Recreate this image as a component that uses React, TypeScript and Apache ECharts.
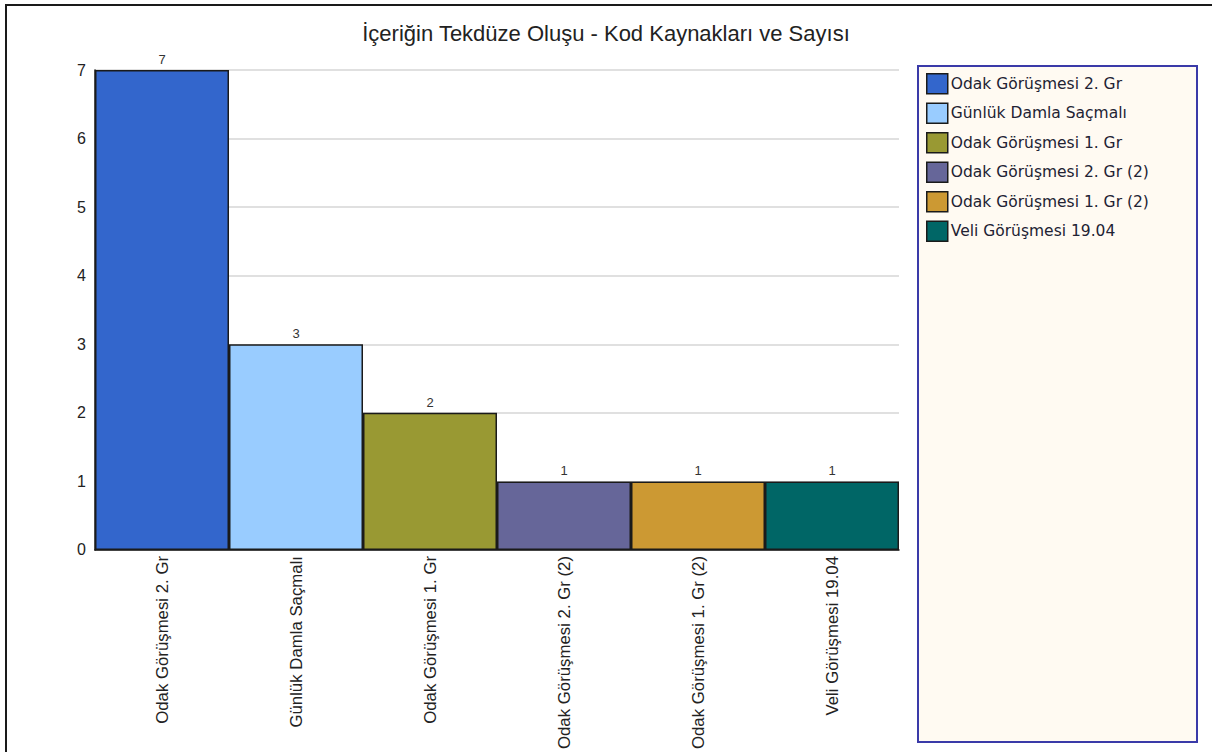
import React, { useEffect, useRef } from "react";
import * as echarts from "echarts";

const titleText = "İçeriğin Tekdüze Oluşu - Kod Kaynakları ve Sayısı";
const categories = [
  "Odak Görüşmesi 2. Gr",
  "Günlük Damla Saçmalı",
  "Odak Görüşmesi 1. Gr",
  "Odak Görüşmesi 2. Gr (2)",
  "Odak Görüşmesi 1. Gr (2)",
  "Veli Görüşmesi 19.04",
];
const values = [7, 3, 2, 1, 1, 1];
const yTicks = [0, 1, 2, 3, 4, 5, 6, 7];
const palette = ["#3366cc", "#99ccff", "#999933", "#666699", "#cc9933", "#006666"];

const FONT = "'Liberation Sans', Arial, sans-serif";
const LEGEND_FONT = "'DejaVu Sans', Verdana, sans-serif";

export default function App() {
  const ref = useRef<HTMLDivElement>(null);

  useEffect(() => {
    if (!ref.current) return;
    const chart = echarts.init(ref.current, undefined, { renderer: "svg" });

    const series = categories.map((name, i) => ({
      name,
      type: "bar" as const,
      stack: "total",
      barWidth: "100%",
      barCategoryGap: "0%",
      data: values.map((v, j) => (j === i ? v : "-")),
      itemStyle: { color: palette[i], borderColor: "#1a1a1a", borderWidth: 1.5 },
      label: {
        show: true,
        position: "top" as const,
        distance: 4,
        fontSize: 13,
        color: "#333",
        fontFamily: FONT,
      },
      emphasis: { disabled: true },
    }));

    chart.setOption({
      animation: false,
      backgroundColor: "#ffffff",
      title: {
        text: titleText,
        left: "center",
        top: 21,
        padding: [0, 0, 0, 6],
        textStyle: {
          fontSize: 22,
          fontWeight: "normal",
          color: "#222",
          fontFamily: FONT,
          lineHeight: 24,
        },
      },
      graphic: [
        {
          type: "rect",
          silent: true,
          z: -10,
          shape: { x: 6, y: 5, width: 1400, height: 900 },
          style: { fill: "none", stroke: "#1a1a1a", lineWidth: 2 },
        },
        {
          type: "rect",
          silent: true,
          z: -5,
          shape: { x: 918, y: 66, width: 279, height: 676 },
          style: { fill: "#fffaf2", stroke: "#3a3aa8", lineWidth: 2 },
        },
      ],
      legend: {
        orient: "vertical",
        left: 926,
        top: 73,
        padding: 0,
        itemWidth: 21,
        itemHeight: 20,
        itemGap: 8,
        icon: "rect",
        selectedMode: false,
        itemStyle: { borderColor: "#1a1a1a", borderWidth: 1.5 },
        textStyle: { fontSize: 15.5, color: "#222233", fontFamily: LEGEND_FONT, padding: [0, 0, 0, -2] },
        data: categories,
      },
      grid: { left: 95, right: 313, top: 70, bottom: 202, containLabel: false },
      xAxis: {
        type: "category",
        data: categories,
        axisTick: { show: false },
        axisLine: { lineStyle: { color: "#111", width: 1.5 } },
        axisLabel: {
          rotate: 90,
          interval: 0,
          margin: 6,
          fontSize: 16.8,
          color: "#222",
          fontFamily: FONT,
        },
      },
      yAxis: {
        type: "value",
        min: yTicks[0],
        max: yTicks[yTicks.length - 1],
        interval: 1,
        axisLine: { show: true, lineStyle: { color: "#111", width: 1.5 } },
        axisTick: { show: false },
        splitLine: { lineStyle: { color: "#d6d6d6", width: 1.5 } },
        axisLabel: { margin: 9, fontSize: 16, color: "#222", fontFamily: FONT },
      },
      series,
    });

    return () => chart.dispose();
  }, []);

  return (
    <div
      ref={ref}
      style={{ position: "absolute", left: 0, top: 0, width: 1212, height: 752, background: "#fff" }}
    />
  );
}
